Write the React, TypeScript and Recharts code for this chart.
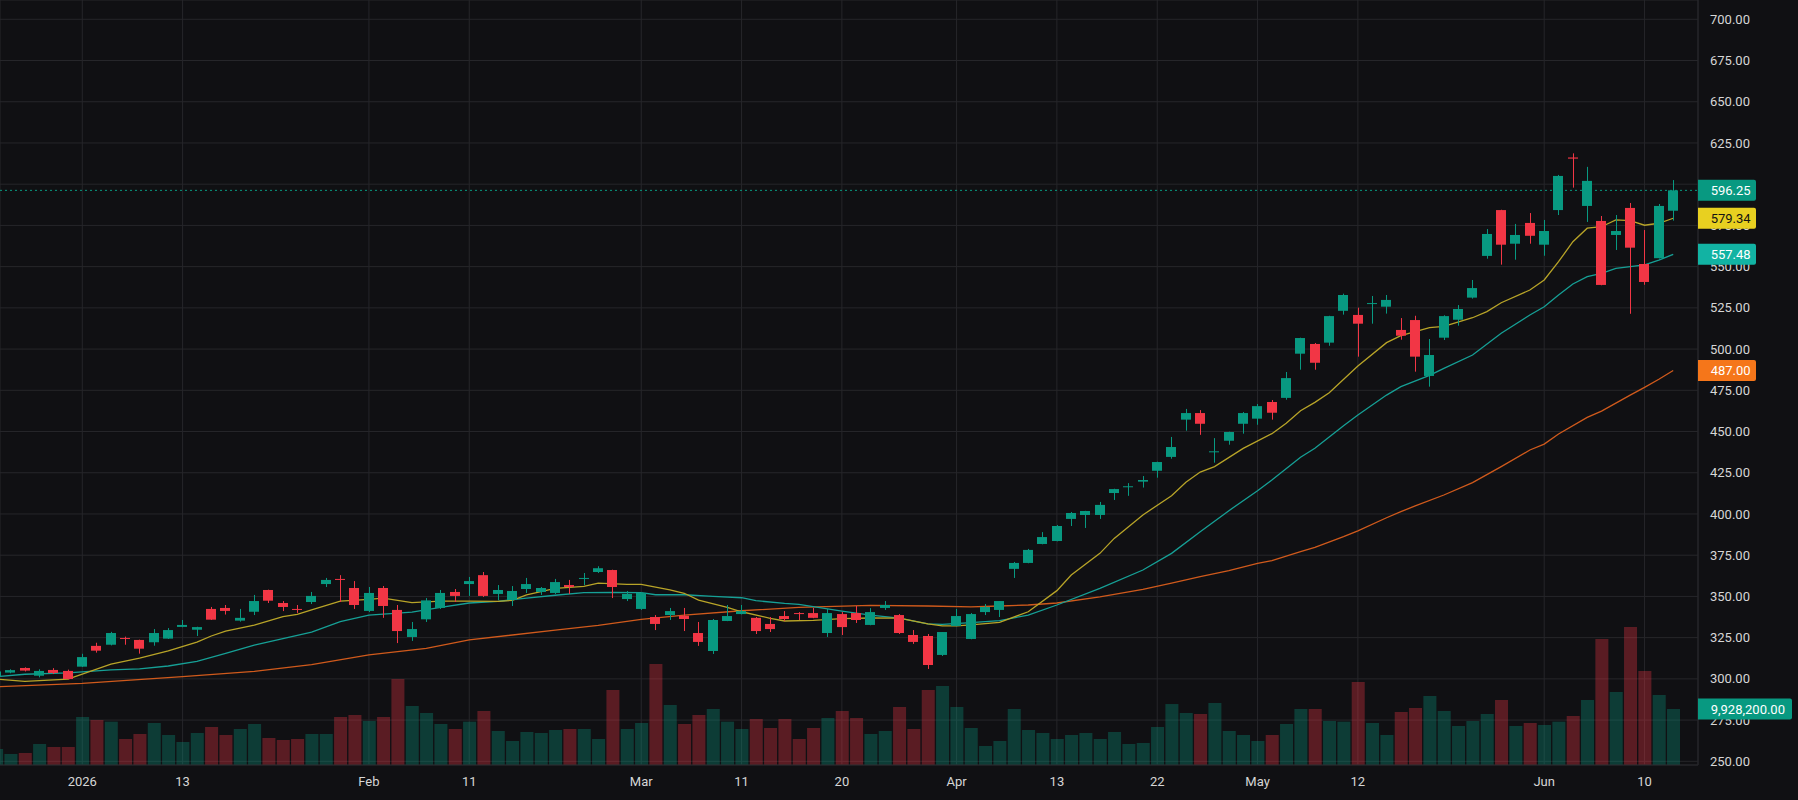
import React from 'react';
import { ComposedChart, Bar, Line, XAxis, YAxis, CartesianGrid, ReferenceLine, Cell } from 'recharts';

// Daily candles, first row is Dec 23 2025 (index -6), index 0 = Jan 2 2026, last = Jun 12 2026
const FIRST_INDEX = -6;

const opens = [
  301.5, 303.8, 306.6, 301.9, 305.4, 304.8,
  307.4, 320.0, 320.7, 324.8, 323.6, 322.2, 324.4, 331.5, 329.8, 342.4,
  343.0, 335.3, 340.7, 353.9, 346.0, 342.4, 346.6, 357.5, 360.6, 355.1,
  341.2, 355.1, 341.8, 325.4, 336.1, 343.0, 352.7, 357.5, 362.9, 351.5,
  347.8, 354.5, 352.7, 352.1, 356.9, 360.6, 364.8, 366.0, 348.4, 342.4,
  337.5, 338.7, 338.3, 327.8, 316.9, 335.1, 339.3, 337.0, 333.3, 338.1,
  339.9, 339.9, 327.8, 339.3, 339.9, 332.7, 343.0, 338.7, 326.6, 326.0,
  314.5, 332.1, 324.2, 340.5, 341.8, 366.7, 370.3, 381.8, 383.6, 397.0,
  399.4, 399.4, 412.7, 416.3, 419.6, 426.2, 434.6, 457.2, 461.2, 437.4,
  444.4, 454.7, 457.8, 467.9, 470.4, 497.2, 503.1, 503.9, 523.2, 520.7,
  527.3, 525.7, 511.6, 517.6, 483.7, 506.9, 517.8, 531.2, 556.5, 584.3,
  563.9, 576.5, 563.3, 584.3, 616.2, 586.8, 577.7, 569.2, 585.6, 551.6,
  555.1, 583.9,
];

const highs = [
  305.5, 305.8, 307.0, 305.8, 306.5, 305.6,
  315.2, 321.9, 328.5, 325.6, 323.8, 330.2, 330.8, 335.7, 331.6, 343.6,
  344.8, 342.4, 350.9, 354.1, 347.2, 344.8, 352.7, 361.2, 362.9, 359.3,
  355.7, 356.3, 344.8, 334.5, 349.0, 353.9, 354.5, 361.8, 364.8, 356.9,
  356.3, 361.2, 355.7, 360.6, 360.0, 364.2, 368.3, 366.2, 353.3, 352.7,
  338.7, 343.0, 343.0, 334.5, 336.3, 344.8, 344.8, 337.5, 337.5, 341.1,
  340.5, 343.0, 342.4, 340.5, 344.2, 342.9, 347.2, 339.3, 329.6, 327.2,
  328.4, 342.4, 339.9, 345.4, 347.2, 370.9, 378.8, 389.0, 393.3, 401.2,
  401.9, 407.3, 415.3, 418.7, 423.0, 431.7, 446.7, 463.7, 463.0, 446.0,
  449.9, 461.8, 466.7, 469.1, 486.1, 506.9, 503.7, 520.2, 533.6, 525.1,
  532.2, 532.8, 518.8, 520.2, 506.1, 520.5, 526.7, 541.9, 572.8, 584.5,
  575.9, 582.5, 578.3, 605.6, 618.7, 610.5, 580.7, 581.3, 588.6, 572.2,
  588.0, 602.5,
];

const lows = [
  301.0, 303.4, 304.5, 300.9, 302.9, 299.7,
  307.2, 315.9, 320.3, 320.7, 315.3, 320.1, 324.2, 331.3, 326.0, 335.7,
  339.0, 334.7, 338.7, 346.0, 341.1, 340.0, 345.4, 355.7, 346.6, 342.4,
  340.5, 337.0, 321.7, 323.0, 334.5, 342.4, 346.6, 350.3, 349.7, 347.8,
  344.2, 352.1, 350.9, 351.5, 351.5, 356.9, 364.2, 349.0, 347.2, 341.8,
  329.6, 335.7, 329.0, 320.0, 315.1, 335.0, 339.1, 327.2, 328.4, 335.1,
  335.7, 336.8, 325.4, 326.6, 333.9, 332.5, 341.8, 327.2, 321.2, 306.0,
  313.9, 331.9, 324.0, 338.7, 337.5, 361.2, 370.1, 381.6, 383.4, 392.7,
  391.5, 397.0, 408.5, 411.0, 416.0, 422.0, 433.5, 450.5, 448.0, 431.1,
  442.0, 448.7, 454.1, 457.2, 469.3, 487.5, 487.5, 502.0, 520.9, 495.4,
  515.4, 521.5, 505.7, 486.3, 477.2, 505.5, 514.2, 530.6, 554.8, 551.2,
  554.2, 563.9, 556.6, 581.3, 597.9, 577.1, 538.7, 560.1, 521.4, 539.0,
  554.9, 577.9,
];

const closes = [
  304.5, 305.3, 305.0, 304.8, 303.6, 299.9,
  313.2, 317.1, 327.8, 324.2, 318.3, 327.8, 329.6, 332.7, 331.4, 335.9,
  341.2, 337.0, 347.2, 347.4, 343.6, 341.8, 350.3, 360.0, 360.0, 344.8,
  352.1, 344.2, 329.0, 330.2, 347.6, 352.1, 350.3, 359.3, 350.3, 353.9,
  353.3, 357.5, 355.1, 358.7, 355.7, 361.2, 367.1, 355.7, 351.5, 352.1,
  333.3, 341.1, 336.3, 322.4, 335.7, 338.1, 341.1, 329.0, 330.2, 336.3,
  339.3, 337.0, 339.9, 331.4, 335.7, 340.5, 344.8, 327.8, 322.4, 308.4,
  328.4, 338.1, 339.3, 343.6, 347.2, 370.3, 378.2, 386.0, 392.7, 400.6,
  401.8, 405.5, 415.1, 416.8, 420.6, 431.5, 440.6, 461.2, 454.7, 438.0,
  449.7, 461.2, 465.4, 461.4, 482.4, 506.7, 491.7, 520.0, 532.8, 515.4,
  527.9, 529.8, 508.1, 495.4, 496.4, 520.0, 524.3, 537.0, 569.8, 563.3,
  569.2, 568.7, 571.6, 605.0, 615.5, 602.0, 538.9, 571.6, 561.5, 540.7,
  586.8, 596.25,
];

const volumes = [
  2.84e6, 1.95e6, 2.13e6, 3.72e6, 3.19e6, 3.19e6,
  8.51e6, 7.98e6, 7.68e6, 4.61e6, 5.5e6, 7.45e6, 5.32e6, 4.08e6, 5.67e6, 6.74e6,
  5.32e6, 6.38e6, 7.27e6, 4.79e6, 4.43e6, 4.61e6, 5.5e6, 5.5e6, 8.51e6, 8.86e6,
  7.8e6, 8.51e6, 15.25e6, 10.46e6, 9.22e6, 7.27e6, 6.38e6, 7.68e6, 9.57e6, 6.03e6,
  4.26e6, 5.85e6, 5.67e6, 6.21e6, 6.38e6, 6.38e6, 4.61e6, 13.3e6, 6.38e6, 7.45e6,
  17.91e6, 10.64e6, 7.27e6, 8.86e6, 9.93e6, 7.68e6, 6.38e6, 8.16e6, 6.56e6, 8.16e6,
  4.61e6, 6.56e6, 8.33e6, 9.57e6, 8.33e6, 5.5e6, 6.03e6, 10.28e6, 6.38e6, 13.3e6,
  14.01e6, 10.28e6, 6.56e6, 3.37e6, 4.26e6, 9.93e6, 6.21e6, 5.67e6, 4.61e6, 5.32e6,
  5.67e6, 4.61e6, 5.85e6, 3.72e6, 3.9e6, 6.74e6, 10.81e6, 9.22e6, 9.04e6, 10.99e6,
  6.03e6, 5.32e6, 4.26e6, 5.32e6, 7.27e6, 9.93e6, 9.93e6, 7.8e6, 7.68e6, 14.72e6,
  7.45e6, 5.32e6, 9.4e6, 10.11e6, 12.23e6, 9.57e6, 6.91e6, 7.8e6, 9.04e6, 11.52e6,
  6.91e6, 7.45e6, 7.09e6, 7.68e6, 8.69e6, 11.52e6, 22.34e6, 12.94e6, 24.47e6, 16.67e6,
  12.41e6, 9928200,
];

// moving averages, [bar index, value]
const ma10Points: [number, number][] = [
  [-6, 299.8], [-4, 298.5], [-1, 299.9], [0, 302.9], [2, 309], [4, 312.6], [6, 316.9], [8, 322.3],
  [9, 326], [10, 329], [12, 332.6], [14, 337.7], [15, 339.1], [16, 341.8], [18, 347.2], [20, 348.2],
  [21, 349], [23, 346.2], [25, 347.2], [27, 347.2], [29, 347], [30, 347.6], [31, 350.9], [33, 354.9],
  [35, 356.1], [36, 358], [38, 357.3], [39, 357.3], [41, 353.9], [42, 351.9], [43, 347.8], [45, 343.4],
  [46, 340.7], [48, 336.7], [49, 335.1], [51, 335.5], [53, 336.5], [55, 336.9], [57, 336.8], [59, 333.3],
  [60, 332.1], [61, 332.1], [62, 332.7], [64, 334.3], [66, 340.7], [68, 353.5], [69, 363], [71, 376.1],
  [72, 385.2], [73, 392.3], [74, 399.4], [76, 411.1], [77, 419.2], [78, 425.4], [79, 428.7], [81, 439.8],
  [83, 448.7], [84, 455], [85, 462.6], [86, 467.7], [87, 473.5], [89, 489.7], [91, 503.9], [92, 508.2],
  [94, 513], [95, 513.8], [97, 519], [98, 522.7], [99, 528.1], [101, 535.8], [102, 541.9], [103, 553],
  [104, 565.1], [105, 573.3], [106, 574.2], [107, 578.3], [108, 577.9], [109, 575.1], [110, 576.3], [111, 579.34],
];

const ma20Points: [number, number][] = [
  [-6, 301.3], [-4, 302.8], [-1, 303.6], [2, 305.4], [4, 306], [6, 307.8], [8, 310.6], [10, 315.5],
  [12, 320.5], [14, 324.4], [16, 328.4], [18, 334.7], [20, 338.7], [23, 340.5], [25, 343.4], [27, 346],
  [29, 347], [31, 349], [33, 350.7], [35, 352.3], [37, 352.5], [39, 352.3], [40, 351], [42, 351],
  [44, 350], [46, 349.2], [47, 347.4], [49, 345.8], [50, 345.2], [53, 341.1], [55, 338.7], [57, 336.8],
  [59, 333.3], [60, 333.1], [62, 334.1], [64, 335.3], [66, 338.7], [68, 344.8], [71, 354.9], [74, 366],
  [76, 376.1], [78, 389.2], [80, 402], [82, 414.1], [83, 420.6], [85, 434.4], [86, 439.8], [88, 453.5],
  [89, 460], [91, 472.1], [92, 477.2], [94, 484.1], [95, 488.3], [97, 496.4], [99, 509.6], [101, 520.7],
  [102, 525.7], [103, 532.8], [104, 539.5], [105, 543.9], [106, 545.9], [107, 549], [108, 550], [109, 551],
  [110, 554], [111, 557.48],
];

const ma50Points: [number, number][] = [
  [-6, 295.2], [0, 297.3], [7, 301.3], [12, 304.6], [16, 308.6], [20, 314.5], [24, 318.5], [27, 323.6],
  [33, 329.6], [36, 332.5], [39, 336.1], [42, 338.7], [46, 341.3], [50, 343.4], [55, 344.6], [59, 344.2],
  [62, 343.6], [64, 344.2], [66, 344.8], [68, 346], [71, 349.7], [74, 354.3], [76, 358], [78, 362],
  [80, 365.6], [82, 370.1], [83, 371.7], [85, 377.1], [86, 379.8], [88, 386.2], [89, 389.8], [91, 397.7],
  [92, 401.4], [93, 404.9], [95, 411.5], [97, 419], [99, 428.7], [101, 438.8], [102, 442.4], [103, 448.5],
  [105, 458.6], [106, 462.4], [108, 472.1], [109, 476.8], [110, 481.7], [111, 487.0],
];

const timeTicks = [0, 7, 20, 27, 39, 46, 53, 61, 68, 75, 82, 89, 102, 109];
const timeLabels = ['2026', '13', 'Feb', '11', 'Mar', '11', '20', 'Apr', '13', '22', 'May', '12', 'Jun', '10'];
const priceTicks = [250, 275, 300, 325, 350, 375, 400, 425, 450, 475, 500, 525, 550, 575, 600, 625, 650, 675, 700];

const lastClose = 596.25;
const lastMa10 = 579.34;
const lastMa20 = 557.48;
const lastMa50 = 487.0;
const lastVolume = 9928200;

const W = 1798;
const H = 800;
const AXIS_W = 100;
const AXIS_H = 35;
const X_DOMAIN: [number, number] = [-5.74, 112.73];
const PRICE_DOMAIN: [number, number] = [247.76, 711.7];
const VOL_DOMAIN: [number, number] = [0, 135.63e6];

const BG = '#101013';
const GRID = '#26262a';
const TEXT = '#d6d6d6';
const UP = '#089981';
const DOWN = '#f23645';
const FONT = 'Roboto, "Noto Sans", sans-serif';

type Row = {
  i: number; open: number; high: number; low: number; close: number; volume: number;
  ma10?: number; ma20?: number; ma50?: number;
};

const rows: Row[] = opens.map((open, k) => ({
  i: FIRST_INDEX + k,
  open,
  high: highs[k],
  low: lows[k],
  close: closes[k],
  volume: volumes[k],
}));
ma10Points.forEach(([i, v]) => { rows[i - FIRST_INDEX].ma10 = v; });
ma20Points.forEach(([i, v]) => { rows[i - FIRST_INDEX].ma20 = v; });
ma50Points.forEach(([i, v]) => { rows[i - FIRST_INDEX].ma50 = v; });

const timeLabel = (v: number) => timeLabels[timeTicks.indexOf(v)] ?? '';

// wick + body drawn inside the [low, high] range bar
const Candle = (props: any) => {
  const { x, y, width, height, payload } = props;
  if (!payload || width == null) return null;
  const { open, high, low, close } = payload;
  const top = Math.min(y, y + height);
  const h = Math.abs(height);
  const k = high === low ? 0 : h / (high - low);
  const py = (v: number) => top + (high - v) * k;
  const color = close >= open ? UP : DOWN;
  const bodyTop = py(Math.max(open, close));
  const bodyH = Math.max(1, py(Math.min(open, close)) - bodyTop);
  const cx = Math.round(x + width / 2) + 0.5;
  const bx = Math.round(x);
  return (
    <g>
      <line x1={cx} x2={cx} y1={top} y2={top + h} stroke={color} strokeWidth={1} />
      <rect x={bx} y={bodyTop} width={Math.round(width)} height={bodyH} fill={color} />
    </g>
  );
};

// coloured value box on the price scale
const Tag = ({ viewBox, text, bg, fg, w }: any) => {
  if (!viewBox) return null;
  const x = viewBox.x + viewBox.width;
  const y = viewBox.y;
  const hh = 10.5;
  const r = 2;
  const d = `M${x},${y - hh} H${x + w - r} Q${x + w},${y - hh} ${x + w},${y - hh + r} V${y + hh - r} Q${x + w},${y + hh} ${x + w - r},${y + hh} H${x} Z`;
  return (
    <g>
      <path d={d} fill={bg} />
      <text x={x + 12.7} y={y} dy="0.36em" fill={fg} fontSize={13} fontFamily={FONT}>{text}</text>
    </g>
  );
};

const tagLabel = (text: string, bg: string, fg: string, w = 58) => (p: any) => (
  <Tag viewBox={p.viewBox} text={text} bg={bg} fg={fg} w={w} />
);

const layer: React.CSSProperties = { position: 'absolute', left: 0, top: 0 };
const innerMargin = { top: 0, right: AXIS_W, bottom: AXIS_H, left: 0 };

export default function App() {
  return (
    <div style={{ position: 'relative', width: W, height: H, background: BG }}>
      <style>{`body{margin:0;background:${BG};}`}</style>

      {/* back layer: grid and volume histogram */}
      <div style={layer}>
        <ComposedChart width={W} height={H} data={rows} margin={innerMargin}>
          <XAxis dataKey="i" type="number" domain={X_DOMAIN} ticks={timeTicks} allowDataOverflow hide />
          <YAxis yAxisId="price" type="number" domain={PRICE_DOMAIN} ticks={priceTicks} allowDataOverflow hide />
          <YAxis yAxisId="vol" type="number" domain={VOL_DOMAIN} allowDataOverflow hide />
          <CartesianGrid yAxisId="price" stroke={GRID} strokeWidth={1} />
          <Bar yAxisId="vol" dataKey="volume" barSize={13} isAnimationActive={false}>
            {rows.map((r) => (
              <Cell key={r.i} fill={r.close >= r.open ? 'rgba(8,153,129,0.33)' : 'rgba(242,54,69,0.33)'} />
            ))}
          </Bar>
        </ComposedChart>
      </div>

      {/* middle layer: moving averages, candles, scales */}
      <div style={layer}>
        <ComposedChart width={W} height={H} data={rows} margin={{ top: 0, right: 0, bottom: 0, left: 0 }}>
          <XAxis
            dataKey="i"
            type="number"
            domain={X_DOMAIN}
            ticks={timeTicks}
            tickFormatter={timeLabel}
            allowDataOverflow
            height={AXIS_H}
            axisLine={{ stroke: GRID }}
            tickLine={false}
            tickSize={0}
            tickMargin={12}
            tick={{ fill: TEXT, fontSize: 13, fontFamily: FONT }}
          />
          <YAxis
            yAxisId="price"
            orientation="right"
            type="number"
            domain={PRICE_DOMAIN}
            ticks={priceTicks}
            tickFormatter={(v: number) => v.toFixed(2)}
            allowDataOverflow
            width={AXIS_W}
            axisLine={{ stroke: GRID }}
            tickLine={false}
            tickSize={0}
            tickMargin={12}
            tick={{ fill: TEXT, fontSize: 13, fontFamily: FONT, textAnchor: 'start' }}
          />

          <Line yAxisId="price" dataKey="ma50" stroke="#d05a1c" strokeWidth={1.3} dot={false} connectNulls isAnimationActive={false} />
          <Line yAxisId="price" dataKey="ma20" stroke="#16a096" strokeWidth={1.3} dot={false} connectNulls isAnimationActive={false} />
          <Line yAxisId="price" dataKey="ma10" stroke="#b8a428" strokeWidth={1.3} dot={false} connectNulls isAnimationActive={false} />

          <Bar
            yAxisId="price"
            dataKey={(d: Row) => [d.low, d.high]}
            barSize={10}
            shape={Candle}
            isAnimationActive={false}
            {...({ zIndex: 450 } as any)}
          />
        </ComposedChart>
      </div>

      {/* top layer: last-price line and value boxes over the price scale */}
      <div style={layer}>
        <ComposedChart width={W} height={H} data={rows} margin={innerMargin}>
          <XAxis dataKey="i" type="number" domain={X_DOMAIN} allowDataOverflow hide />
          <YAxis yAxisId="price" type="number" domain={PRICE_DOMAIN} allowDataOverflow hide />
          <YAxis yAxisId="vol" type="number" domain={VOL_DOMAIN} allowDataOverflow hide />
          <ReferenceLine yAxisId="price" y={lastClose} stroke={UP} strokeDasharray="2 3" label={tagLabel(lastClose.toFixed(2), UP, '#ffffff')} />
          <ReferenceLine yAxisId="price" y={lastMa10} stroke="none" label={tagLabel(lastMa10.toFixed(2), '#e8d020', '#131313')} />
          <ReferenceLine yAxisId="price" y={lastMa20} stroke="none" label={tagLabel(lastMa20.toFixed(2), '#12b3a3', '#ffffff')} />
          <ReferenceLine yAxisId="price" y={lastMa50} stroke="none" label={tagLabel(lastMa50.toFixed(2), '#f5761a', '#ffffff')} />
          <ReferenceLine
            yAxisId="vol"
            y={lastVolume}
            stroke="none"
            label={tagLabel(lastVolume.toLocaleString('en-US', { minimumFractionDigits: 2 }), UP, '#ffffff', 94)}
          />
        </ComposedChart>
      </div>
    </div>
  );
}
